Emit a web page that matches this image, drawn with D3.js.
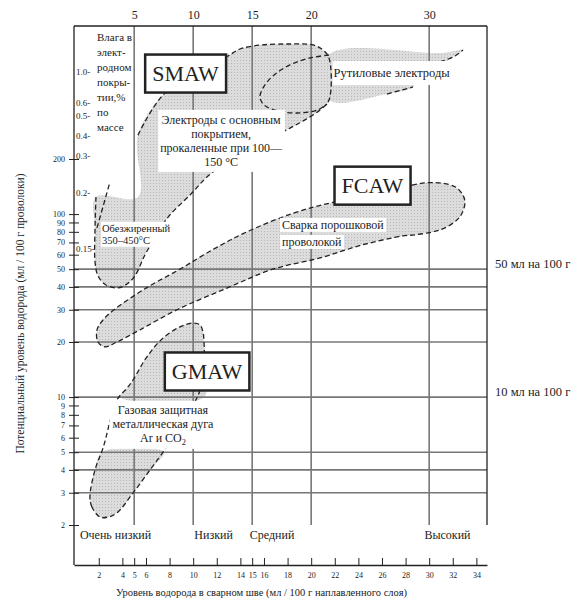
<!DOCTYPE html>
<html>
<head>
<meta charset="utf-8">
<script src="https://cdn.jsdelivr.net/npm/d3@7"></script>
<style>
  body { margin: 0; background: #fff; }
  svg { display: block; }
</style>
</head>
<body>
<svg id="chart" width="571" height="602" font-family="Liberation Serif, DejaVu Serif, serif"></svg>
<script>
// axes
const topTicks = [5, 10, 15, 20, 30];
const bottomTicks = [2, 4, 5, 6, 8, 10, 12, 14, 15, 16, 18, 20, 22, 24, 26, 28, 30, 32, 34];
const leftTicks = [2, 3, 4, 5, 6, 7, 8, 9, 10, 20, 30, 40, 50, 60, 70, 80, 90, 100, 200];
const gridX = [5, 10, 15, 20, 30];
const gridY = [3, 4, 5, 10, 20, 30, 40, 50];

// moisture of coating (%) and the hydrogen level it sits at
const moistureLabels = ["1.0", "0.6", "0.5", "0.4", "0.3", "0.2", "0.15"];
const moistureAt = [605, 405, 344, 270, 210, 132, 65];

// hydrogen level categories along the bottom
const levelNames = ["Очень низкий", "Низкий", "Средний", "Высокий"];
const levelStart = [0.4, 10.1, 14.8, 29.6];

const refLines = [50, 10];
const refNames = ["50 мл на 100 г", "10 мл на 100 г"];

// process regions, [weld metal H, potential H]
const smawOutline = [[5.32, 270], [7.61, 459], [12.95, 731], [13.97, 798], [15.81, 840], [18.2, 850],
  [20.15, 840], [21.0, 788], [21.51, 713], [21.51, 420], [20.75, 371], [19.47, 327], [18.2, 295],
  [11.68, 170], [9.73, 127], [7.86, 96], [6.76, 74], [5.92, 60], [5.07, 46], [4.39, 41.5],
  [3.63, 39.5], [2.61, 41], [1.93, 46], [1.68, 55], [1.68, 82], [1.76, 124]];
const smawTick = [[1.85, 84], [2.95, 150]];
const smawCut = [[5.32, 124]];

const rutileArc = [[21.51, 740], [19.9, 713], [18.2, 653], [16.76, 569], [15.92, 489], [15.66, 436],
  [16.0, 395], [17.19, 366], [19.05, 357], [20.58, 371], [21.34, 400]];
const rutileTip = [[30.92, 678], [32.19, 731], [32.87, 788]];
const rutileLow = [[26.42, 453], [28.63, 495]];
const rutileFill = [[21.51, 745], [31.0, 760], [32.87, 788], [31.34, 678], [29.22, 575],
  [28.63, 495], [26.42, 453], [21.51, 420]];

const fcawOutline = [[21.85, 116], [28.54, 144], [29.64, 148], [30.92, 148], [32.19, 141],
  [32.86, 127], [33.03, 115], [32.78, 101], [32.36, 93], [31.34, 84], [30.32, 80], [28.8, 77],
  [27.78, 76], [24.39, 68], [20.75, 57.6], [16.76, 50], [12.86, 39.4], [8.63, 30], [5.49, 23.3],
  [3.54, 20], [2.53, 18.8], [1.93, 20], [1.85, 23.3], [2.36, 26.4], [3.29, 30], [6.0, 39.4],
  [8.88, 50], [11.85, 65], [14.56, 80], [18.46, 101]];

const gmawOutline = [[2.1, 2.21], [1.42, 2.51], [1.25, 2.84], [1.68, 4.0], [2.36, 5.27], [3.54, 9.64],
  [4.39, 11.2], [4.9, 12.4], [6.08, 16.6], [7.44, 21], [8.88, 24.2], [9.98, 25.4], [10.58, 24.8],
  [10.83, 22.7], [10.92, 19.8], [10.92, 15.9], [10.58, 10.9], [9.73, 8.5], [8.46, 6.6], [7.61, 5.2],
  [6.34, 4.0], [4.9, 2.99], [3.54, 2.33], [2.78, 2.21]];
const gmawFillTop = [[3.8, 10], [4.39, 11.2], [4.9, 12.4], [6.08, 16.6], [7.44, 21], [8.88, 24.2],
  [9.98, 25.4], [10.58, 24.8], [10.83, 22.7], [10.92, 19.8], [10.92, 10]];
const gmawFillLow = [[2.27, 5], [1.68, 4.0], [1.25, 2.84], [1.42, 2.51], [2.1, 2.21], [2.78, 2.21],
  [3.54, 2.33], [4.9, 2.99], [6.34, 4.0], [7.53, 5]];

const processNames = ["SMAW", "FCAW", "GMAW"];
const processAt = [[9.35, 586], [25.19, 143], [11.17, 13.8]];

const serif = "Liberation Serif, DejaVu Serif, serif";
const svg = d3.select("#chart");
const x = d3.scaleLinear().domain([-0.1, 34.9]).range([74, 487]);
const y = d3.scaleLog().domain([2, 1066]).range([525, 26]);
const axisY = 565;
const ink = "#222";
const gridCol = "#777";

const defs = svg.append("defs");
const pat = defs.append("pattern").attr("id", "dots")
  .attr("width", 3).attr("height", 3).attr("patternUnits", "userSpaceOnUse");
pat.append("rect").attr("width", 3).attr("height", 3).attr("fill", "#dcdcdc");
pat.append("rect").attr("width", 1).attr("height", 1).attr("fill", "#b8b8b8");

const open = d3.line().x(d => x(d[0])).y(d => y(d[1])).curve(d3.curveCatmullRom.alpha(0.5));
const closed = d3.line().x(d => x(d[0])).y(d => y(d[1])).curve(d3.curveCatmullRomClosed.alpha(0.5));

// gray fills
svg.append("g").selectAll("path")
  .data([smawOutline.concat(smawCut), rutileFill, fcawOutline, gmawFillTop, gmawFillLow])
  .enter().append("path")
  .attr("d", closed)
  .attr("fill", "url(#dots)");

// grid
svg.append("g").selectAll("line").data(gridX).enter().append("line")
  .attr("x1", d => x(d)).attr("x2", d => x(d))
  .attr("y1", y.range()[1]).attr("y2", y.range()[0])
  .attr("stroke", gridCol).attr("stroke-width", 1.6);
svg.append("g").selectAll("line").data(gridY).enter().append("line")
  .attr("x1", x.range()[0]).attr("x2", x.range()[1])
  .attr("y1", d => y(d)).attr("y2", d => y(d))
  .attr("stroke", gridCol).attr("stroke-width", 1.6);

// dashed outlines
const dash = "5,3";
svg.append("g").selectAll("path")
  .data([smawOutline, smawTick, rutileArc, rutileTip, rutileLow])
  .enter().append("path")
  .attr("d", open)
  .attr("fill", "none").attr("stroke", ink).attr("stroke-width", 1.3)
  .attr("stroke-dasharray", dash);
svg.append("g").selectAll("path")
  .data([fcawOutline, gmawOutline])
  .enter().append("path")
  .attr("d", closed)
  .attr("fill", "none").attr("stroke", ink).attr("stroke-width", 1.3)
  .attr("stroke-dasharray", dash);

// text notes with white backing; a line given as [text, sub] gets a subscript
function note(lines, dx, dy, anchor, fs, lh, mode, pad) {
  const g = svg.append("g");
  const texts = lines.map((t, i) => {
    const el = g.append("text")
      .attr("x", x(dx)).attr("y", y(dy) + i * lh)
      .attr("text-anchor", anchor).attr("font-size", fs)
      .attr("font-family", serif).attr("fill", ink);
    if (Array.isArray(t)) {
      el.append("tspan").text(t[0]);
      el.append("tspan").attr("font-size", fs * 0.7).attr("dy", 3).text(t[1]);
    } else el.text(t);
    return el;
  });
  if (!mode) return;
  const boxes = texts.map(t => t.node().getBBox());
  const rects = mode === "block" ? [{
    x: d3.min(boxes, b => b.x), y: d3.min(boxes, b => b.y),
    x2: d3.max(boxes, b => b.x + b.width), y2: d3.max(boxes, b => b.y + b.height)
  }] : boxes.map(b => ({ x: b.x, y: b.y, x2: b.x + b.width, y2: b.y + b.height }));
  rects.forEach(r => g.insert("rect", "text")
    .attr("x", r.x - pad[0]).attr("y", r.y - pad[1])
    .attr("width", r.x2 - r.x + 2 * pad[0]).attr("height", r.y2 - r.y + 2 * pad[1])
    .attr("fill", "#fff"));
}

note(["Электроды с основным", "покрытием,", "прокаленные при 100—", "150 °C"], 12.37, 311, "middle", 12, 14, "block", [2, 3]);
note(["Рутиловые электроды"], 21.9, 561, "start", 12.5, 14, "block", [1, 5]);
note(["Сварка порошковой", "проволокой"], 17.53, 83, "start", 12, 17, "lines", [2, 0]);
note(["Обезжиренный", "350–450°C"], 2.27, 80, "start", 10.5, 12, "block", [1, 1]);
note(["Газовая защитная", "металлическая дуга", ["Ar и CO", "2"]], 7.44, 8.1, "middle", 12, 14, "block", [3, 2]);
note(["Влага в", "элект-", "родном", "покры-", "тии,%", "по", "массе"], 1.85, 880, "start", 11, 15, null, [0, 0]);

// moisture scale inside the frame
svg.append("g").selectAll("text").data(moistureLabels).enter().append("text")
  .attr("x", x.range()[0] + 2).attr("y", (d, i) => y(moistureAt[i]) + 3.5)
  .attr("font-size", 9).attr("font-family", serif).attr("fill", ink)
  .text(d => d + "-");

// process name boxes
processNames.forEach((name, i) => {
  const cx = x(processAt[i][0]), cy = y(processAt[i][1]);
  const g = svg.append("g");
  const t = g.append("text").attr("x", cx).attr("y", cy + 7.5)
    .attr("text-anchor", "middle").attr("font-size", 22).attr("font-family", serif)
    .attr("fill", ink).text(name);
  const b = t.node().getBBox();
  g.insert("rect", "text")
    .attr("x", b.x - 7).attr("y", cy - 19)
    .attr("width", b.width + 14).attr("height", 38)
    .attr("fill", "#fff").attr("stroke", ink).attr("stroke-width", 2.5);
});

// frame
const frame = svg.append("g").attr("stroke", ink).attr("stroke-width", 1.3);
frame.append("line").attr("x1", x.range()[0]).attr("x2", x.range()[1])
  .attr("y1", y.range()[1]).attr("y2", y.range()[1]);
frame.append("line").attr("x1", x.range()[0]).attr("x2", x.range()[0])
  .attr("y1", y.range()[1]).attr("y2", axisY);
frame.append("line").attr("x1", x.range()[1]).attr("x2", x.range()[1])
  .attr("y1", y.range()[1]).attr("y2", y.range()[0]);

// left axis
const gl = svg.append("g").attr("transform", `translate(${x.range()[0]},0)`)
  .call(d3.axisLeft(y).tickValues(leftTicks).tickFormat(d3.format("d")).tickSize(5).tickPadding(4));
gl.attr("font-family", serif).attr("font-size", 8);
gl.select(".domain").remove();
gl.selectAll(".tick line").attr("x1", 5).attr("stroke", ink);
gl.selectAll("text").attr("fill", ink);

// top axis
const gt = svg.append("g").attr("transform", `translate(0,${y.range()[1]})`)
  .call(d3.axisTop(x).tickValues(topTicks).tickSize(0).tickPadding(7));
gt.attr("font-family", serif).attr("font-size", 12);
gt.select(".domain").remove();
gt.selectAll("text").attr("fill", ink);

// bottom axis
const gb = svg.append("g").attr("transform", `translate(0,${axisY})`)
  .call(d3.axisBottom(x).tickValues(bottomTicks).tickSize(-7).tickSizeOuter(0).tickPadding(7));
gb.attr("font-family", serif).attr("font-size", 8);
gb.select(".domain").attr("stroke", ink).attr("stroke-width", 1.3);
gb.selectAll(".tick line").attr("stroke", ink);
gb.selectAll("text").attr("fill", ink);

// level names
svg.append("g").selectAll("text").data(levelNames).enter().append("text")
  .attr("x", (d, i) => x(levelStart[i])).attr("y", 539)
  .attr("font-size", 12).attr("font-family", serif).attr("fill", ink).text(d => d);

// reference labels at right
svg.append("g").selectAll("text").data(refNames).enter().append("text")
  .attr("x", x.range()[1] + 8).attr("y", (d, i) => y(refLines[i]) - 1)
  .attr("font-size", 12.5).attr("font-family", serif).attr("fill", ink).text(d => d);

// axis titles
svg.append("text")
  .attr("transform", `translate(24,${(y.range()[0] + y.range()[1]) / 2 + 38}) rotate(-90)`)
  .attr("text-anchor", "middle").attr("font-size", 11.5).attr("font-family", serif).attr("fill", ink)
  .text("Потенциальный уровень водорода (мл / 100 г проволоки)");
svg.append("text")
  .attr("x", (x.range()[0] + x.range()[1]) / 2 - 19).attr("y", 596)
  .attr("text-anchor", "middle").attr("font-size", 10.5).attr("font-family", serif).attr("fill", ink)
  .text("Уровень водорода в сварном шве (мл / 100 г наплавленного слоя)");
</script>
</body>
</html>
